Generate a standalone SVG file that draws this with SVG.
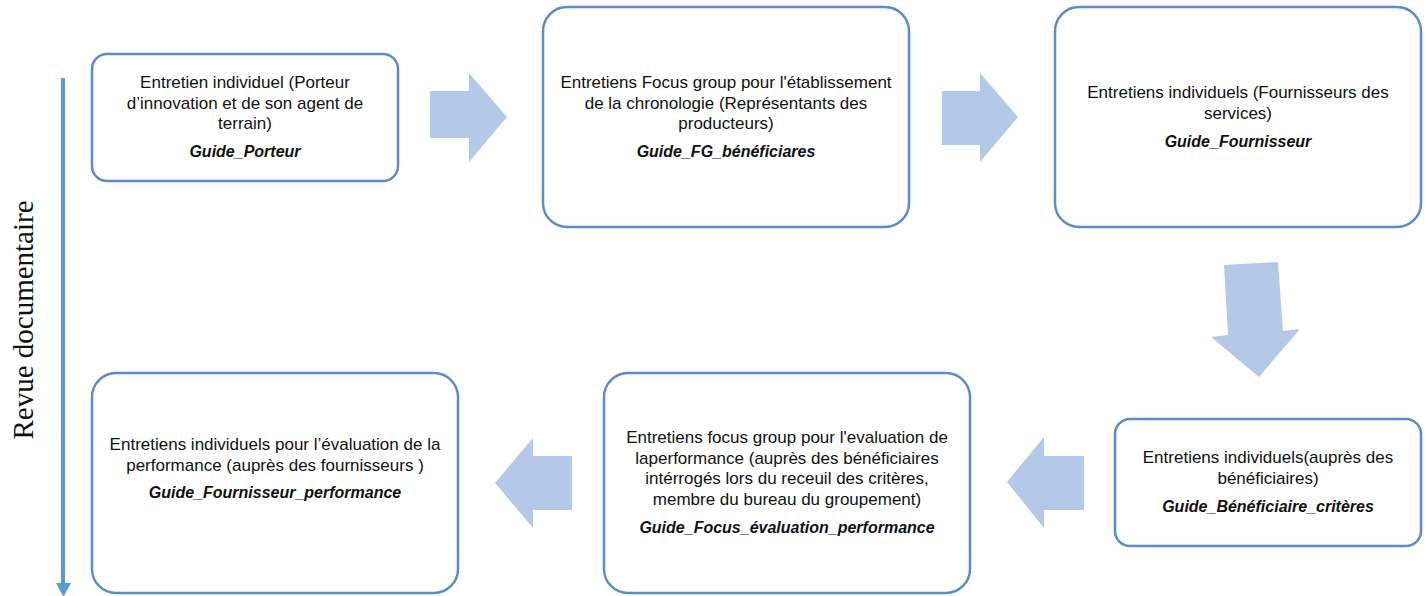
<svg xmlns="http://www.w3.org/2000/svg" width="1426" height="596" viewBox="0 0 1426 596">
  <style>
    .box { fill: #ffffff; stroke: #5B8CC8; stroke-width: 2.5; }
    .flow { fill: #B4C9E7; stroke: none; }
    .txt { font-family: "Liberation Sans", Arial, sans-serif; font-size: 17px; fill: #111111; text-anchor: middle; }
    .guide { font-family: "Liberation Sans", Arial, sans-serif; font-size: 16px; font-weight: bold; font-style: italic; fill: #111111; text-anchor: middle; }
    .side { font-family: "Liberation Serif", "Times New Roman", serif; font-size: 29px; fill: #111111; text-anchor: middle; }
  </style>
  <rect width="1426" height="596" fill="#ffffff"/>

  <!-- timeline of the document review -->
  <g id="revue">
    <line x1="63" y1="78" x2="63" y2="584" stroke="#5B9BD5" stroke-width="4"/>
    <polygon points="56,583 71,583 63.5,597" fill="#5B9BD5"/>
    <text class="side" transform="translate(33,320) rotate(-90)">Revue documentaire</text>
  </g>

  <!-- block arrows between the steps -->
  <g id="connectors">
    <polygon class="flow" points="430,91 469,91 469,73 507,117 469,162 469,138 430,138"/>
    <polygon class="flow" points="942,91 980,91 980,73 1018,117 980,162 980,145 942,145"/>
    <polygon class="flow" points="1224,265 1278,262 1283,331 1300,329 1259,377 1211,337 1228,335"/>
    <polygon class="flow" points="1084,456 1044,456 1044,437 1007,482 1044,528 1044,510 1084,510"/>
    <polygon class="flow" points="572,456 533,456 533,438 495,483 533,528 533,510 572,510"/>
  </g>

  <g id="porteur">
    <rect class="box" x="92" y="54" width="306" height="127" rx="15" ry="15"/>
    <text class="txt" x="245" y="88">Entretien individuel (Porteur</text>
    <text class="txt" x="245" y="108.5">d’innovation et de son agent de</text>
    <text class="txt" x="245" y="129">terrain)</text>
    <text class="guide" x="245" y="157">Guide_Porteur</text>
  </g>

  <g id="focus-chronologie">
    <rect class="box" x="543" y="7" width="366" height="220" rx="24" ry="24"/>
    <text class="txt" x="726" y="88">Entretiens Focus group pour l'établissement</text>
    <text class="txt" x="726" y="108.5">de la chronologie (Représentants des</text>
    <text class="txt" x="726" y="129">producteurs)</text>
    <text class="guide" x="726" y="157">Guide_FG_bénéficiares</text>
  </g>

  <g id="fournisseurs">
    <rect class="box" x="1055" y="7" width="366" height="220" rx="24" ry="24"/>
    <text class="txt" x="1238" y="98">Entretiens individuels (Fournisseurs des</text>
    <text class="txt" x="1238" y="118.5">services)</text>
    <text class="guide" x="1238" y="147">Guide_Fournisseur</text>
  </g>

  <g id="beneficiaires">
    <rect class="box" x="1115" y="419" width="306" height="127" rx="15" ry="15"/>
    <text class="txt" x="1268" y="463">Entretiens individuels(auprès des</text>
    <text class="txt" x="1268" y="483.5">bénéficiaires)</text>
    <text class="guide" x="1268" y="512">Guide_Bénéficiaire_critères</text>
  </g>

  <g id="focus-performance">
    <rect class="box" x="604" y="373" width="366" height="220" rx="24" ry="24"/>
    <text class="txt" x="787" y="443">Entretiens focus group pour l'evaluation de</text>
    <text class="txt" x="787" y="463.5">laperformance (auprès des bénéficiaires</text>
    <text class="txt" x="787" y="484">intérrogés lors du receuil des critères,</text>
    <text class="txt" x="787" y="504.5">membre du bureau du groupement)</text>
    <text class="guide" x="787" y="533">Guide_Focus_évaluation_performance</text>
  </g>

  <g id="fournisseurs-performance">
    <rect class="box" x="92" y="373" width="366" height="220" rx="24" ry="24"/>
    <text class="txt" x="275" y="450">Entretiens individuels pour l’évaluation de la</text>
    <text class="txt" x="275" y="470.5">performance (auprès des fournisseurs )</text>
    <text class="guide" x="275" y="498">Guide_Fournisseur_performance</text>
  </g>
</svg>
